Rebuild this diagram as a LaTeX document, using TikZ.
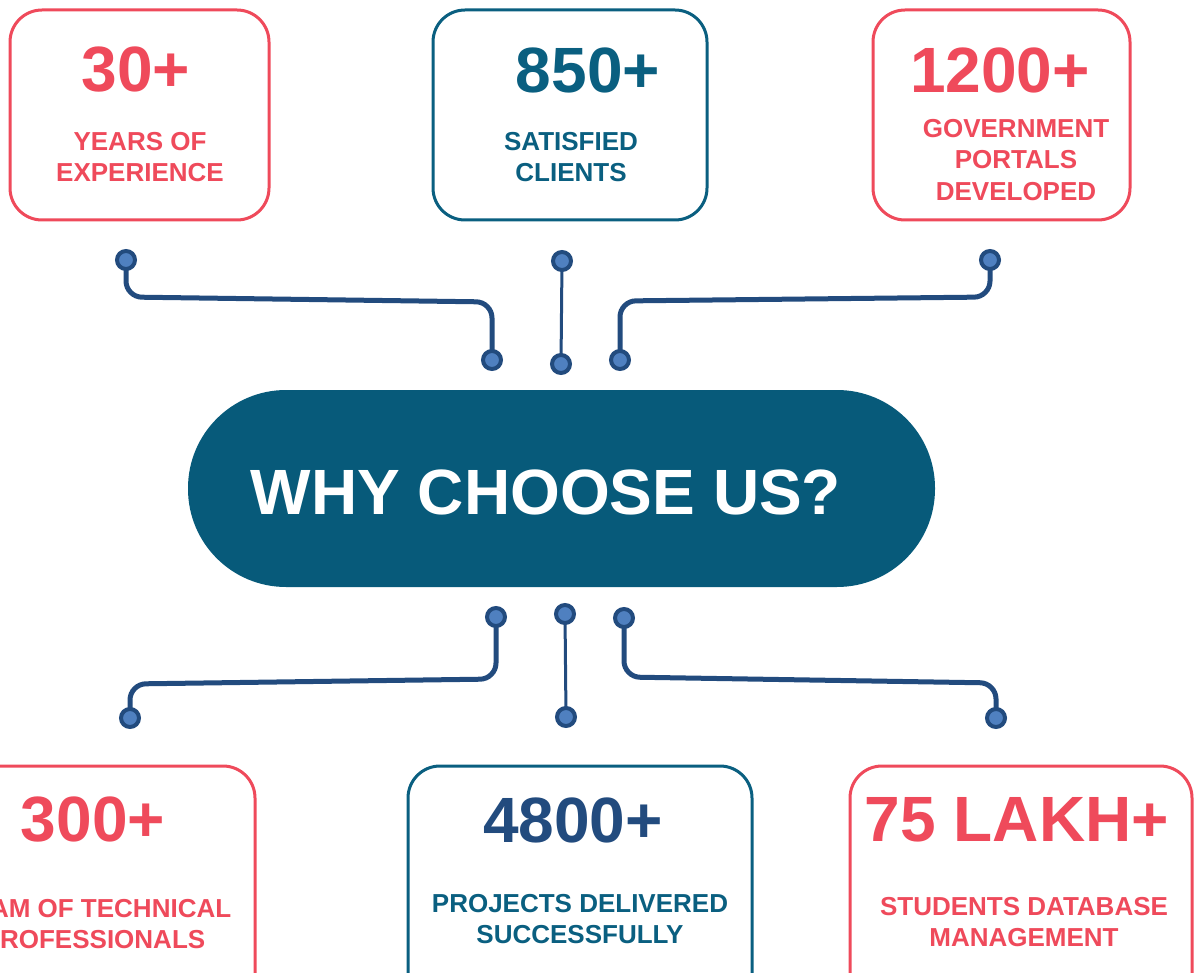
\documentclass[tikz,border=0pt]{standalone}
\usepackage{fontspec}
\setmainfont{Liberation Sans}
\definecolor{cred}{HTML}{EF4A5B}
\definecolor{cteal}{HTML}{0A5F80}
\definecolor{cpill}{HTML}{075A7A}
\definecolor{cnavy}{HTML}{224B7E}
\definecolor{cdot}{HTML}{4F80C0}
\begin{document}
\begin{tikzpicture}[x=1pt,y=-1pt,
  card/.style={draw, line width=3pt, rounded corners=32pt, fill=white, inner sep=0pt},
  num/.style={font=\bfseries\fontsize{64}{70}\selectfont, inner sep=0pt},
  lab/.style={font=\bfseries\fontsize{26}{31.5}\selectfont, align=center, inner sep=0pt},
  dotnode/.style={circle, draw=cnavy, fill=cdot, line width=4pt, minimum size=18pt, inner sep=0pt},
  conn/.style={draw=cnavy, line width=5pt, rounded corners=16pt},
  connthin/.style={draw=cnavy, line width=3pt},
  pill/.style={fill=cpill, rounded corners=98pt, inner sep=0pt}]
\useasboundingbox (0,0) rectangle (1196,973);
\clip (0,0) rectangle (1196,973);
% cards
\node[card, draw=cred, minimum width=259pt, minimum height=210pt] (b1) at (139.5,115) {};
\node[card, draw=cteal, minimum width=274pt, minimum height=210pt] (b2) at (570,115) {};
\node[card, draw=cred, minimum width=257pt, minimum height=210pt] (b3) at (1001.5,115) {};
\node[card, draw=cred, minimum width=290pt, minimum height=250pt] (b4) at (110,891) {};
\node[card, draw=cteal, minimum width=344pt, minimum height=250pt] (b5) at (580,891) {};
\node[card, draw=cred, minimum width=342pt, minimum height=250pt] (b6) at (1021,891) {};
% texts
\node[num, text=cred] (n1) at (136,70) {30+};
\node[lab, text=cred] (l1) at (140,157) {YEARS OF\\EXPERIENCE};
\node[num, text=cteal] (n2) at (588,70) {850+};
\node[lab, text=cteal] (l2) at (571,157) {SATISFIED\\CLIENTS};
\node[num, text=cred] (n3) at (1000,70) {1200+};
\node[lab, text=cred] (l3) at (1016,160) {GOVERNMENT\\PORTALS\\DEVELOPED};
\node[num, text=cred] (n4) at (93,820) {300+};
\node[lab, text=cred] (l4) at (94,924) {TEAM OF TECHNICAL\\PROFESSIONALS};
\node[num, text=cnavy] (n5) at (573,820) {4800+};
\node[lab, text=cteal] (l5) at (580,919) {PROJECTS DELIVERED\\SUCCESSFULLY};
\node[num, text=cred] (n6) at (1017,820) {75 LAKH+};
\node[lab, text=cred] (l6) at (1024,922) {STUDENTS DATABASE\\MANAGEMENT};
% central pill
\node[pill, minimum width=747pt, minimum height=197pt] (hub) at (561.5,488.5) {};
\node[font=\bfseries\fontsize{64}{70}\selectfont, text=white, inner sep=0pt] (why) at (546,492) {WHY CHOOSE US?};
% dots (coordinates)
\coordinate (t1a) at (126,260); \coordinate (t1b) at (492,360);
\coordinate (t2a) at (562,261); \coordinate (t2b) at (561,364);
\coordinate (t3a) at (990,260); \coordinate (t3b) at (620,360);
\coordinate (u1a) at (496,617); \coordinate (u1b) at (130,718);
\coordinate (u2a) at (565,614); \coordinate (u2b) at (566,717);
\coordinate (u3a) at (624,618); \coordinate (u3b) at (996,718);
% connectors
\draw[conn] (t1a) -- (126,297) -- (492,302) -- (t1b);
\draw[connthin] (t2a) -- (t2b);
\draw[conn] (t3b) -- (620,301) -- (990,297) -- (t3a);
\draw[conn] (u1a) -- (496,679) -- (130,684) -- (u1b);
\draw[connthin] (u2a) -- (u2b);
\draw[conn] (u3a) -- (624,677) -- (996,683) -- (u3b);
% dot nodes
\foreach \p in {t1a,t1b,t2a,t2b,t3a,t3b,u1a,u1b,u2a,u2b,u3a,u3b}
  \node[dotnode] (d\p) at (\p) {};
\end{tikzpicture}
\end{document}
